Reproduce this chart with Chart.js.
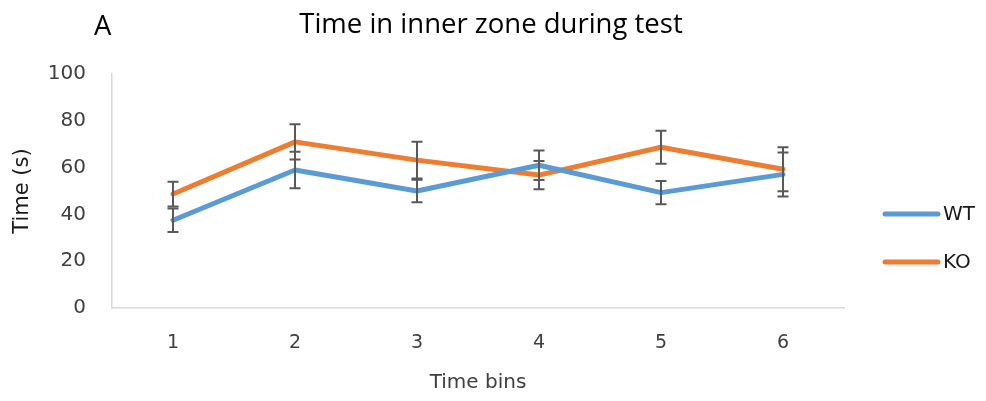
<!DOCTYPE html>
<html>
<head>
<meta charset="utf-8">
<script src="https://cdn.jsdelivr.net/npm/chart.js@4.4.1/dist/chart.umd.min.js"></script>
<style>
    html, body { margin: 0; padding: 0; background: #fff; }
    #tempoChart { display: block; }
</style>
</head>
<body>
<canvas id="tempoChart" width="986" height="401"></canvas>
<script>
const categorias = ['1', '2', '3', '4', '5', '6'];
const wtMedia = [37.5, 59, 50, 61, 49.3, 57.1];
const wtErro = [5, 7.8, 4.8, 6.3, 5, 9.4];
const koMedia = [48.7, 71, 63.2, 56.8, 68.7, 59.3];
const koErro = [5.3, 7.5, 7.9, 6, 7.1, 9.4];
const yTicks = [0, 20, 40, 60, 80, 100];

const FONTE = "'DejaVu Sans', 'Open Sans', sans-serif";
const FONTE_TITULO = "'Open Sans', 'Noto Sans', sans-serif";
const AZUL = '#5b9bd5';
const LARANJA = '#ed7d31';

// barras de erro (média ± erro) desenhadas depois das linhas
const barrasErro = {
    id: 'barrasErro',
    afterDatasetsDraw(chart) {
        const { ctx, scales: { x, y } } = chart;
        ctx.save();
        ctx.strokeStyle = '#595959';
        ctx.lineWidth = 2;
        chart.data.datasets.forEach(ds => {
            ds.erro.forEach((e, i) => {
                const px = x.getPixelForValue(i);
                const yTop = y.getPixelForValue(ds.data[i] + e);
                const yBot = y.getPixelForValue(ds.data[i] - e);
                ctx.beginPath();
                ctx.moveTo(px, yTop);
                ctx.lineTo(px, yBot);
                ctx.moveTo(px - 5.5, yTop);
                ctx.lineTo(px + 5.5, yTop);
                ctx.moveTo(px - 5.5, yBot);
                ctx.lineTo(px + 5.5, yBot);
                ctx.stroke();
            });
        });
        ctx.restore();
    }
};

// título, letra do painel e legenda à direita
const textos = {
    id: 'textos',
    afterDraw(chart) {
        const { ctx } = chart;
        ctx.save();
        ctx.fillStyle = '#000';
        ctx.textBaseline = 'alphabetic';
        ctx.font = `27.5px ${FONTE_TITULO}`;
        ctx.textAlign = 'left';
        ctx.fillText('A', 94, 35);
        ctx.textAlign = 'center';
        ctx.fillText('Time in inner zone during test', 491, 33);

        ctx.textBaseline = 'middle';
        ctx.font = `20px ${FONTE}`;
        ctx.textAlign = 'left';
        ctx.lineCap = 'round';
        ctx.lineWidth = 5;
        chart.data.datasets.forEach((ds, i) => {
            const ly = 214 + i * 48;
            ctx.strokeStyle = ds.borderColor;
            ctx.beginPath();
            ctx.moveTo(885, ly);
            ctx.lineTo(938, ly);
            ctx.stroke();
            ctx.fillStyle = '#1a1a1a';
            ctx.fillText(ds.label, 943, ly + 1);
        });
        ctx.restore();
    }
};

const ctx = document.getElementById('tempoChart').getContext('2d');

new Chart(ctx, {
    type: 'line',
    data: {
        labels: categorias,
        datasets: [{
            label: 'WT',
            data: wtMedia,
            erro: wtErro,
            borderColor: AZUL,
            backgroundColor: AZUL,
            borderWidth: 5,
            borderCapStyle: 'round',
            borderJoinStyle: 'round',
            pointRadius: 0,
            tension: 0
        }, {
            label: 'KO',
            data: koMedia,
            erro: koErro,
            borderColor: LARANJA,
            backgroundColor: LARANJA,
            borderWidth: 5,
            borderCapStyle: 'round',
            borderJoinStyle: 'round',
            pointRadius: 0,
            tension: 0
        }]
    },
    options: {
        responsive: false,
        animation: false,
        layout: {
            padding: { top: 74, right: 142, bottom: 0, left: 0 }
        },
        scales: {
            x: {
                offset: true,
                grid: { display: true, drawOnChartArea: false, drawTicks: false },
                border: { display: true, color: '#d9d9d9', width: 1.5 },
                ticks: {
                    padding: 24,
                    color: '#404040',
                    font: { family: FONTE, size: 19 }
                },
                title: {
                    display: true,
                    text: 'Time bins',
                    color: '#404040',
                    padding: { top: 0, bottom: 6 },
                    font: { family: FONTE, size: 20 }
                },
                afterFit: (scale) => { scale.height = 93; }
            },
            y: {
                min: 0,
                max: 100,
                afterBuildTicks: (scale) => {
                    scale.ticks = yTicks.map(v => ({ value: v }));
                },
                grid: { display: true, drawOnChartArea: false, drawTicks: false },
                border: { display: true, color: '#d9d9d9', width: 1.5 },
                ticks: {
                    padding: 26,
                    color: '#404040',
                    font: { family: FONTE, size: 20 }
                },
                title: {
                    display: true,
                    text: 'Time (s)',
                    color: '#1a1a1a',
                    padding: { top: 10, bottom: 0 },
                    font: { family: FONTE, size: 21 }
                },
                afterFit: (scale) => { scale.width = 112; }
            }
        },
        plugins: {
            legend: { display: false },
            tooltip: { enabled: false }
        }
    },
    plugins: [barrasErro, textos]
});
</script>
</body>
</html>
